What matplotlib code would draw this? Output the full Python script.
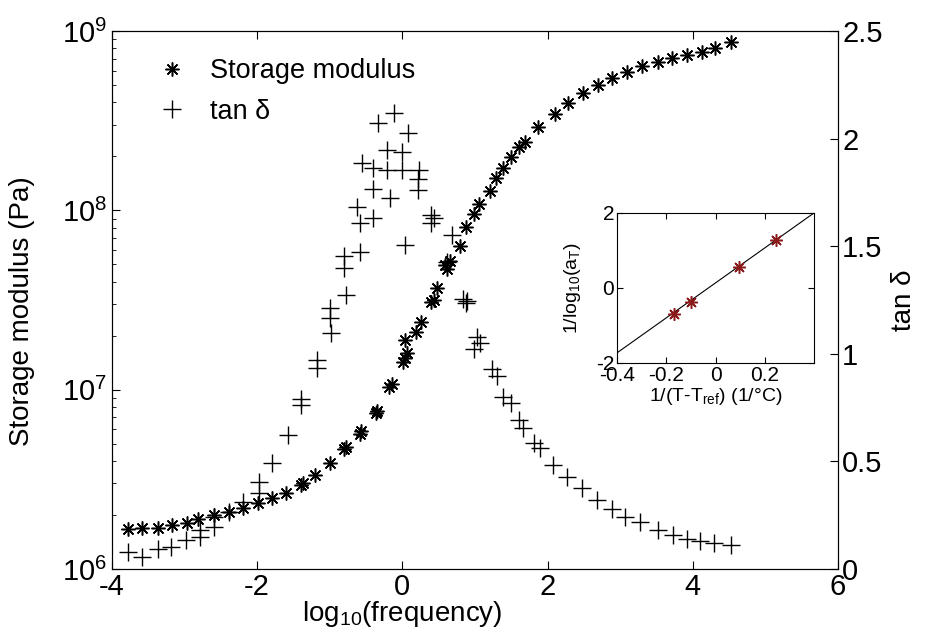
import numpy as np
import matplotlib
matplotlib.use("Agg")
import matplotlib.pyplot as plt
from matplotlib.lines import Line2D

plt.rcParams['font.family'] = ['Liberation Sans', 'DejaVu Sans']
plt.rcParams['mathtext.fontset'] = 'custom'
plt.rcParams['mathtext.rm'] = 'Liberation Sans'
plt.rcParams['mathtext.it'] = 'Liberation Sans'
plt.rcParams['axes.unicode_minus'] = False

# storage modulus vs log10(frequency)
storage_logf = [-3.78, -3.58, -3.37, -3.18, -2.97, -2.81, -2.60, -2.39, -2.19, -1.99,
                -1.79, -1.60, -1.39, -1.37, -1.20, -1.00, -0.80, -0.78, -0.59, -0.57,
                -0.37, -0.35, -0.18, -0.14, 0.01, 0.04, 0.07, 0.03, 0.19, 0.26,
                0.39, 0.43, 0.47, 0.58, 0.62, 0.66, 0.80, 0.88, 0.99, 1.05,
                1.21, 1.29, 1.39, 1.49, 1.61, 1.69, 1.87, 2.10, 2.28, 2.49,
                2.70, 2.89, 3.09, 3.30, 3.52, 3.71, 3.92, 4.13, 4.31, 4.53]
storage_pa = [1.67e6, 1.69e6, 1.69e6, 1.76e6, 1.81e6, 1.90e6, 2.00e6, 2.08e6, 2.19e6, 2.34e6,
              2.49e6, 2.66e6, 2.95e6, 3.00e6, 3.35e6, 3.91e6, 4.68e6, 4.80e6, 5.68e6, 5.90e6,
              7.44e6, 7.60e6, 1.04e7, 1.08e7, 1.43e7, 1.51e7, 1.61e7, 1.90e7, 2.11e7, 2.37e7,
              3.10e7, 3.18e7, 3.67e7, 4.93e7, 4.68e7, 5.19e7, 6.30e7, 8.04e7, 9.50e7, 1.09e8,
              1.28e8, 1.51e8, 1.72e8, 1.98e8, 2.25e8, 2.40e8, 2.91e8, 3.44e8, 3.96e8, 4.51e8,
              4.99e8, 5.46e8, 5.90e8, 6.37e8, 6.71e8, 7.07e8, 7.35e8, 7.64e8, 8.04e8, 8.69e8]

# tan delta vs log10(frequency)
tan_logf = [-3.78, -3.58, -3.37, -3.19, -2.98, -2.79, -2.79, -2.59, -2.59, -2.39,
            -2.19, -1.98, -1.98, -1.79, -1.58, -1.39, -1.39, -1.18, -1.18, -1.00,
            -1.00, -0.99, -0.77, -0.80, -0.81, -0.59, -0.62, -0.59, -0.40, -0.41,
            -0.17, -0.55, -0.40, -0.21, 0.00, 0.23, 0.21, 0.21, -0.21, 0.00,
            -0.34, -0.12, 0.08, 0.04, 0.39, 0.43, 0.39, 0.62, 0.69, 0.83,
            0.87, 0.89, 1.03, 1.07, 0.99, 1.23, 1.30, 1.39, 1.49, 1.60,
            1.66, 1.81, 1.90, 2.08, 2.27, 2.48, 2.68, 2.89, 3.07, 3.27,
            3.52, 3.73, 3.92, 4.10, 4.29, 4.53]
tan_delta = [0.079, 0.056, 0.093, 0.102, 0.135, 0.149, 0.181, 0.195, 0.242, 0.265,
             0.312, 0.353, 0.405, 0.493, 0.623, 0.791, 0.763, 0.972, 0.935, 1.167,
             1.214, 1.098, 1.274, 1.456, 1.400, 1.474, 1.684, 1.609, 1.633, 1.767,
             1.726, 1.888, 1.865, 1.856, 1.856, 1.856, 1.814, 1.763, 1.949, 1.940,
             2.074, 2.121, 2.028, 1.507, 1.647, 1.633, 1.609, 1.428, 1.553, 1.256,
             1.237, 1.247, 1.079, 1.051, 1.023, 0.930, 0.898, 0.800, 0.772, 0.693,
             0.656, 0.586, 0.563, 0.484, 0.428, 0.377, 0.321, 0.279, 0.242, 0.219,
             0.181, 0.158, 0.140, 0.130, 0.121, 0.112]

# inset: shift factor fit
inset_x = [-0.17, -0.10, 0.095, 0.246]
inset_y = [-0.69, -0.37, 0.56, 1.28]
fit_x = [-0.4, 0.4]
fit_y = [-1.73, 2.0]

ast = (8, 2, 0)

fig = plt.figure(figsize=(9.27, 6.43), dpi=100)
ax = fig.add_axes([0.1208, 0.1151, 0.7832, 0.8367])
ax2 = ax.twinx()

ax.semilogy(storage_logf, storage_pa, ls='none', marker=ast, ms=10, mew=1.1,
            color='black')
ax2.plot(tan_logf, tan_delta, ls='none', marker='+', ms=13, mew=1.0, color='black')

ax.set_xlim(-4, 6)
ax.set_ylim(1e6, 1e9)
ax2.set_ylim(0, 2.5)
ax.set_xticks([-4, -2, 0, 2, 4, 6])
ax2.set_yticks([0, 0.5, 1, 1.5, 2, 2.5])
ax2.set_yticklabels(['0', '0.5', '1', '1.5', '2', '2.5'])

ax.tick_params(axis='both', which='both', direction='in', labelsize=21, top=True)
ax.tick_params(which='major', length=6)
ax.tick_params(which='minor', length=3)
ax.tick_params(axis='x', pad=3)
ax2.tick_params(direction='in', labelsize=21, length=6, pad=3)

ax.set_xlabel('log$_{10}$(frequency)', fontsize=20)
ax.xaxis.set_label_coords(0.40, -0.055)
ax.set_ylabel('Storage modulus (Pa)', fontsize=20)
ax.yaxis.set_label_coords(-0.106, 0.48)
ax2.set_ylabel('tan δ', fontsize=20, labelpad=6)

handles = [Line2D([], [], ls='none', marker=ast, ms=10, mew=1.1, color='black'),
           Line2D([], [], ls='none', marker='+', ms=13, mew=1.0, color='black')]
ax2.legend(handles, ['Storage modulus', 'tan δ'], loc='upper left',
           bbox_to_anchor=(0.027, 0.995), frameon=False, fontsize=19.5,
           labelspacing=0.55, handletextpad=0.8, handlelength=1.2)

ins = fig.add_axes([0.6656, 0.4355, 0.2125, 0.2333])
ins.plot(fit_x, fit_y, color='black', lw=0.8)
ins.plot(inset_x, inset_y, ls='none', marker=ast, ms=9, mew=1.1, color='#8b1a1a')
ins.set_xlim(-0.4, 0.4)
ins.set_ylim(-2, 2)
ins.set_xticks([-0.4, -0.2, 0, 0.2])
ins.set_xticklabels(['-0.4', '-0.2', '0', '0.2'])
ins.set_yticks([-2, 0, 2])
ins.set_yticklabels(['-2', '0', '2'])
ins.tick_params(direction='in', labelsize=15, length=4, top=True, right=True, pad=2)
ins.set_xlabel('1/(T-T$_{ref}$) (1/°C)', fontsize=14, labelpad=1)
ins.set_ylabel('1/log$_{10}$(a$_T$)', fontsize=14, labelpad=9)

fig.savefig('out.png', dpi=100)
